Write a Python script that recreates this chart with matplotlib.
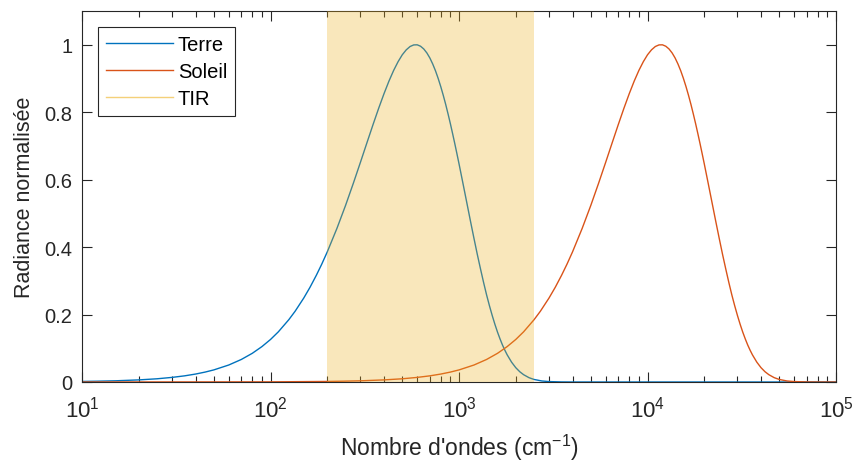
import matplotlib
matplotlib.use('Agg')
from matplotlib import pyplot as plt
from matplotlib.lines import Line2D

# wavenumbers (cm-1) and normalised radiance
nu_terre = [10, 12, 15, 20, 25, 30, 35, 40, 45, 50, 60, 70, 80, 90, 100, 110,
            125, 135, 150, 162, 175, 187, 200, 225, 250, 275, 300, 325, 350,
            375, 400, 425, 450, 475, 500, 525, 550, 575, 600, 625, 650, 675,
            700, 725, 750, 775, 800, 825, 850, 875, 900, 925, 950, 975, 1000,
            1050, 1100, 1150, 1200, 1250, 1300, 1350, 1400, 1450, 1500, 1550,
            1600, 1650, 1700, 1750, 1800, 1900, 2000, 2100, 2200, 2350, 2500,
            2750, 3000, 3500, 4000, 6000, 10000, 100000]
rad_terre = [0.0016, 0.0023, 0.0035, 0.0062, 0.0095, 0.0136, 0.0182, 0.0235,
             0.0294, 0.0358, 0.0503, 0.0668, 0.0850, 0.1049, 0.1261, 0.1487,
             0.1847, 0.2097, 0.2488, 0.2809, 0.3165, 0.3496, 0.3858, 0.4554,
             0.5235, 0.5894, 0.6518, 0.7102, 0.7638, 0.8122, 0.8551, 0.8925,
             0.9241, 0.9499, 0.9704, 0.9851, 0.9949, 0.9996, 0.9999, 0.9957,
             0.9876, 0.9759, 0.9610, 0.9431, 0.9229, 0.9003, 0.8759, 0.8499,
             0.8228, 0.7944, 0.7656, 0.7360, 0.7063, 0.6765, 0.6469, 0.5880,
             0.5313, 0.4770, 0.4261, 0.3785, 0.3352, 0.2950, 0.2584, 0.2261,
             0.1970, 0.1710, 0.1479, 0.1277, 0.1097, 0.0943, 0.0807, 0.0588,
             0.0424, 0.0304, 0.0217, 0.0128, 0.0075, 0.0030, 0.0012, 0.0002,
             0.0, 0.0, 0.0, 0.0]

nu_soleil = [10, 100, 200, 240, 300, 400, 500, 600, 700, 800, 900, 1000, 1200,
             1400, 1600, 1800, 2000, 2200, 2500, 2700, 3000, 3240, 3500, 3740,
             4000, 4500, 5000, 5500, 6000, 6500, 7000, 7500, 8000, 8500, 9000,
             9500, 10000, 10500, 11000, 11500, 12000, 12500, 13000, 13500,
             14000, 14500, 15000, 15500, 16000, 16500, 17000, 17500, 18000,
             18500, 19000, 19500, 20000, 21000, 22000, 23000, 24000, 25000,
             26000, 27000, 28000, 29000, 30000, 31000, 32000, 33000, 34000,
             35000, 36000, 38000, 40000, 42000, 44000, 47000, 50000, 55000,
             60000, 70000, 80000, 100000]
rad_soleil = [0.0, 0.0004, 0.0016, 0.0023, 0.0035, 0.0062, 0.0095, 0.0136,
              0.0182, 0.0235, 0.0294, 0.0358, 0.0503, 0.0668, 0.0850, 0.1049,
              0.1261, 0.1487, 0.1847, 0.2097, 0.2488, 0.2809, 0.3165, 0.3496,
              0.3858, 0.4554, 0.5235, 0.5894, 0.6518, 0.7102, 0.7638, 0.8122,
              0.8551, 0.8925, 0.9241, 0.9499, 0.9704, 0.9851, 0.9949, 0.9996,
              0.9999, 0.9957, 0.9876, 0.9759, 0.9610, 0.9431, 0.9229, 0.9003,
              0.8759, 0.8499, 0.8228, 0.7944, 0.7656, 0.7360, 0.7063, 0.6765,
              0.6469, 0.5880, 0.5313, 0.4770, 0.4261, 0.3785, 0.3352, 0.2950,
              0.2584, 0.2261, 0.1970, 0.1710, 0.1479, 0.1277, 0.1097, 0.0943,
              0.0807, 0.0588, 0.0424, 0.0304, 0.0217, 0.0128, 0.0075, 0.0030,
              0.0012, 0.0002, 0.0, 0.0]

# thermal infrared band
tir_band = [200, 2500]

blue = (0, 0.447, 0.741)
orange = (0.85, 0.325, 0.098)
yellow = (0.929, 0.694, 0.125)
dark = (0.15, 0.15, 0.15)

plt.rcParams['font.family'] = ['Liberation Sans', 'DejaVu Sans']
plt.rcParams['mathtext.default'] = 'regular'

fig = plt.figure(figsize=(8.58, 4.64), dpi=100)
ax = fig.add_axes([0.0956, 0.1746, 0.8788, 0.7994])

l1, = ax.plot(nu_terre, rad_terre, color=blue, lw=1.0, zorder=2)
l2, = ax.plot(nu_soleil, rad_soleil, color=orange, lw=1.0, zorder=2)
ax.axvspan(tir_band[0], tir_band[1], color=yellow, alpha=0.3, lw=0, zorder=3)

ax.set_xscale('log')
ax.set_xlim(10, 1e5)
ax.set_ylim(0, 1.1)
ax.set_yticks([0, 0.2, 0.4, 0.6, 0.8, 1])
ax.set_yticklabels(['0', '0.2', '0.4', '0.6', '0.8', '1'])

ax.tick_params(which='both', direction='in', top=True, right=True,
               colors=dark, width=0.8)
ax.tick_params(which='major', length=7)
ax.tick_params(which='minor', length=4)
ax.tick_params(axis='y', labelsize=14.5, pad=7)
ax.tick_params(axis='x', which='major', labelsize=16, pad=10)
for s in ax.spines.values():
    s.set_color(dark)
    s.set_linewidth(0.8)

ax.set_xlabel("Nombre d'ondes (cm$^{-1}$)", fontsize=16.5, color=dark, labelpad=7)
ax.set_ylabel('Radiance normalisée', fontsize=15.5, color=dark, labelpad=7)

tir_handle = Line2D([], [], color=yellow, alpha=0.6, lw=1.0)
leg = ax.legend([l1, l2, tir_handle], ['Terre', 'Soleil', 'TIR'], loc='upper left',
                fontsize=14.5, fancybox=False, edgecolor=dark, framealpha=1,
                borderpad=0.4, labelspacing=0.4, handlelength=3.3,
                handletextpad=0.25, borderaxespad=0.8)
leg.get_frame().set_linewidth(0.8)

plt.savefig('out.png', dpi=100)
